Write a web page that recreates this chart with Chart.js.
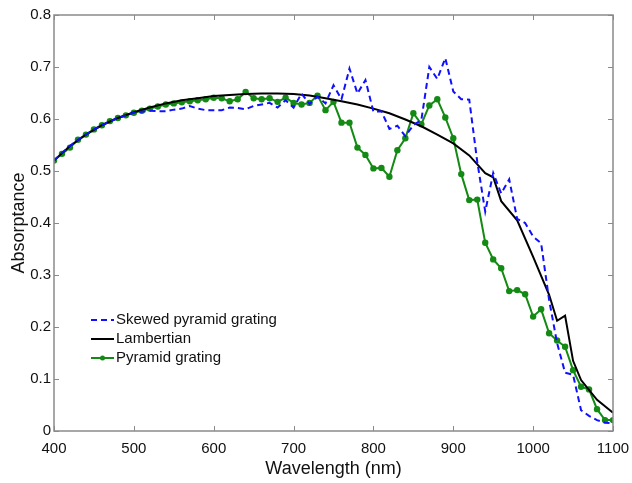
<!DOCTYPE html>
<html>
<head>
<meta charset="utf-8">
<script src="https://cdn.jsdelivr.net/npm/chart.js@4"></script>
<style>
  html, body { margin: 0; padding: 0; background: #fff; }
  #wrap { width: 632px; height: 483px; }
</style>
</head>
<body>
<div id="wrap"><canvas id="chart" width="632" height="483"></canvas></div>
<script>
// wavelengths for the two measured series (10 nm step)
const wavelengths = [
  400, 410, 420, 430, 440, 450, 460, 470, 480, 490,
  500, 510, 520, 530, 540, 550, 560, 570, 580, 590,
  600, 610, 620, 630, 640, 650, 660, 670, 680, 690,
  700, 710, 720, 730, 740, 750, 760, 770, 780, 790,
  800, 810, 820, 830, 840, 850, 860, 870, 880, 890,
  900, 910, 920, 930, 940, 950, 960, 970, 980, 990,
  1000, 1010, 1020, 1030, 1040, 1050, 1060, 1070, 1080, 1090, 1100
];

const skewedValues = [
  0.520, 0.535, 0.548, 0.560, 0.570, 0.580, 0.588, 0.595, 0.602, 0.607,
  0.612, 0.614, 0.616, 0.615, 0.615, 0.618, 0.620, 0.625, 0.620, 0.617,
  0.617, 0.617, 0.622, 0.621, 0.619, 0.625, 0.628, 0.631, 0.622, 0.636,
  0.622, 0.649, 0.629, 0.643, 0.630, 0.665, 0.638, 0.697, 0.649, 0.675,
  0.614, 0.615, 0.581, 0.587, 0.567, 0.588, 0.598, 0.700, 0.677, 0.717,
  0.653, 0.638, 0.637, 0.518, 0.422, 0.496, 0.457, 0.484, 0.408, 0.400,
  0.374, 0.361, 0.252, 0.169, 0.112, 0.108, 0.040, 0.029, 0.021, 0.016, 0.015
];

const pyramidValues = [
  0.520, 0.533, 0.545, 0.560, 0.570, 0.580, 0.588, 0.596, 0.602, 0.607,
  0.612, 0.616, 0.620, 0.624, 0.628, 0.630, 0.632, 0.634, 0.636, 0.638,
  0.641, 0.640, 0.634, 0.638, 0.652, 0.640, 0.638, 0.640, 0.633, 0.641,
  0.631, 0.628, 0.631, 0.645, 0.617, 0.633, 0.593, 0.593, 0.545, 0.531,
  0.505, 0.506, 0.489, 0.540, 0.563, 0.611, 0.590, 0.626, 0.638, 0.603,
  0.563, 0.494, 0.444, 0.445, 0.362, 0.330, 0.313, 0.269, 0.271, 0.263,
  0.220, 0.234, 0.188, 0.174, 0.162, 0.117, 0.085, 0.080, 0.042, 0.021, 0.021
];

// Lambertian limit (smooth curve, own sample points)
const lambertWavelengths = [
  400, 420, 440, 460, 480, 500, 520, 540, 560, 580,
  600, 620, 640, 660, 680, 700, 720, 740, 760, 780,
  800, 820, 840, 860, 880, 900, 920, 940, 950, 960,
  980, 1000, 1020, 1030, 1040, 1050, 1060, 1080, 1100
];
const lambertValues = [
  0.520, 0.548, 0.570, 0.588, 0.602, 0.613, 0.622, 0.630, 0.636, 0.640,
  0.644, 0.646, 0.648, 0.649, 0.649, 0.648, 0.645, 0.640, 0.634, 0.628,
  0.620, 0.611, 0.599, 0.586, 0.570, 0.553, 0.530, 0.496, 0.488, 0.442,
  0.405, 0.335, 0.262, 0.212, 0.222, 0.135, 0.098, 0.060, 0.035
];

const xTicks = [400, 500, 600, 700, 800, 900, 1000, 1100];
const yTicks = [0, 0.1, 0.2, 0.3, 0.4, 0.5, 0.6, 0.7, 0.8];

const toPoints = (xs, ys) => xs.map((x, i) => ({ x: x, y: ys[i] }));

const FONT = '"Liberation Sans", Arial, sans-serif';
const AXIS_COLOR = '#8a8a8a';

// matlab-like box with inward tick marks
const boxPlugin = {
  id: 'boxTicks',
  afterDatasetsDraw: (chart) => {
    const { ctx, chartArea: { top, bottom, left, right }, scales: { x, y } } = chart;
    ctx.save();
    ctx.strokeStyle = AXIS_COLOR;
    ctx.lineWidth = 1.5;
    ctx.strokeRect(left, top, right - left, bottom - top);
    ctx.lineWidth = 1;
    const len = 5;
    ctx.beginPath();
    xTicks.forEach(v => {
      const px = Math.round(x.getPixelForValue(v)) + 0.5;
      ctx.moveTo(px, bottom); ctx.lineTo(px, bottom - len);
      ctx.moveTo(px, top); ctx.lineTo(px, top + len);
    });
    yTicks.forEach(v => {
      const py = Math.round(y.getPixelForValue(v)) + 0.5;
      ctx.moveTo(left, py); ctx.lineTo(left + len, py);
      ctx.moveTo(right, py); ctx.lineTo(right - len, py);
    });
    ctx.stroke();
    ctx.restore();
  }
};

// legend drawn inside the plot area, lower left
const legendPlugin = {
  id: 'innerLegend',
  afterDraw: (chart) => {
    const { ctx } = chart;
    const x0 = 91, x1 = 114, y0 = 320, step = 19;
    ctx.save();
    ctx.font = '15px ' + FONT;
    ctx.textBaseline = 'middle';
    chart.data.datasets.forEach((ds, i) => {
      const yy = y0 + i * step;
      ctx.strokeStyle = ds.borderColor;
      ctx.lineWidth = ds.borderWidth;
      ctx.setLineDash(ds.borderDash || []);
      ctx.beginPath();
      ctx.moveTo(x0, yy); ctx.lineTo(x1, yy);
      ctx.stroke();
      ctx.setLineDash([]);
      if (ds.pointRadius > 0) {
        ctx.fillStyle = ds.pointBackgroundColor;
        ctx.beginPath();
        ctx.arc((x0 + x1) / 2, yy, 2.5, 0, Math.PI * 2);
        ctx.fill();
      }
      ctx.fillStyle = '#111';
      ctx.fillText(ds.label, x1 + 2, yy);
    });
    ctx.restore();
  }
};

const config = {
  type: 'line',
  data: {
    datasets: [
      {
        label: 'Skewed pyramid grating',
        data: toPoints(wavelengths, skewedValues),
        borderColor: '#1010ff',
        borderWidth: 2,
        borderDash: [6, 4],
        pointRadius: 0,
        tension: 0,
        fill: false
      },
      {
        label: 'Lambertian',
        data: toPoints(lambertWavelengths, lambertValues),
        borderColor: '#000000',
        borderWidth: 2,
        pointRadius: 0,
        tension: 0,
        fill: false
      },
      {
        label: 'Pyramid grating',
        data: toPoints(wavelengths, pyramidValues),
        borderColor: '#138a13',
        backgroundColor: '#138a13',
        pointBackgroundColor: '#138a13',
        pointBorderWidth: 0,
        borderWidth: 2,
        pointRadius: 3.2,
        tension: 0,
        fill: false
      }
    ]
  },
  options: {
    responsive: false,
    animation: false,
    layout: { padding: { left: 0, right: 19, top: 15, bottom: 0 } },
    plugins: {
      legend: { display: false },
      tooltip: { enabled: false }
    },
    scales: {
      x: {
        type: 'linear',
        min: 400,
        max: 1100,
        afterBuildTicks: (scale) => { scale.ticks = xTicks.map(v => ({ value: v })); },
        afterFit: (scale) => {
          scale.height = 52;
          scale.paddingLeft = 0;
          scale.paddingRight = 0;
        },
        grid: { display: false, drawTicks: false },
        border: { display: false },
        ticks: {
          padding: 9,
          color: '#111',
          font: { family: FONT, size: 15 },
          maxRotation: 0,
          callback: (v) => String(v)
        },
        title: {
          display: true,
          text: 'Wavelength (nm)',
          color: '#111',
          font: { family: FONT, size: 18 },
          padding: { top: 0, bottom: 3 }
        }
      },
      y: {
        min: 0,
        max: 0.8,
        afterBuildTicks: (scale) => { scale.ticks = yTicks.map(v => ({ value: v })); },
        afterFit: (scale) => {
          scale.width = 54;
          scale.paddingTop = 0;
          scale.paddingBottom = 0;
        },
        grid: { display: false, drawTicks: false },
        border: { display: false },
        ticks: {
          padding: 3,
          color: '#111',
          font: { family: FONT, size: 15 },
          callback: (v) => (v === 0 ? '0' : Number(v).toFixed(1))
        },
        title: {
          display: true,
          text: 'Absorptance',
          color: '#111',
          font: { family: FONT, size: 18 },
          padding: { top: 8, bottom: 0 }
        }
      }
    }
  },
  plugins: [boxPlugin, legendPlugin]
};

new Chart(document.getElementById('chart').getContext('2d'), config);
</script>
</body>
</html>
